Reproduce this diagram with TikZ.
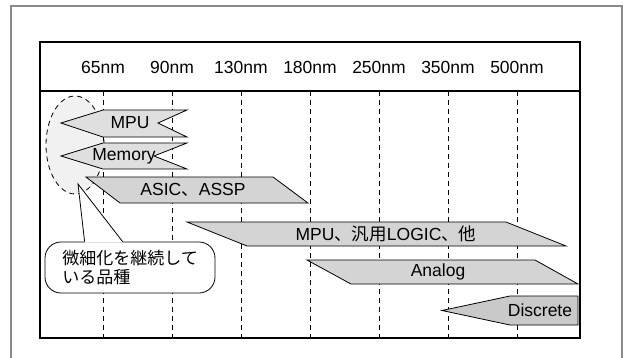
\documentclass[tikz,border=0pt]{standalone}
\usepackage{fontspec}
\setmainfont{Liberation Sans}
\newfontfamily\jp{Noto Sans CJK JP}
\usetikzlibrary{calc,positioning}
\definecolor{band}{HTML}{D4D4D4}
\definecolor{bandlt}{HTML}{DFDFDF}
\definecolor{banddk}{HTML}{C9C9C9}
\definecolor{frame}{HTML}{8A8A8A}
\definecolor{haze}{HTML}{F1F1F1}
\tikzset{
  band/.style={draw=black, fill=band, line width=0.8pt, line join=miter},
  grid/.style={dash pattern=on 5pt off 4pt, line width=0.8pt},
  lbl/.style={font=\fontsize{17.5}{20}\selectfont, inner sep=0pt},
  note/.style={draw, fill=white, rounded corners=16pt, line width=0.8pt, align=left,
               font=\jp\fontsize{17}{19}\selectfont, minimum width=170pt, minimum height=51pt,
               inner xsep=17pt}
}

\begin{document}
\begin{tikzpicture}[x=1pt, y=-1pt]
  \useasboundingbox (0,0) rectangle (623,357);
  \clip (0,0) rectangle (623,357);
  \draw[frame, line width=1.6pt] (11,6) rectangle (622,370);
  \draw[line width=1.2pt] (40,42) rectangle (580,338);
  \draw[line width=1.2pt] (40,91) -- (580,91);
  \draw[haze, fill=haze] (75,145) ellipse [x radius=29, y radius=49];
  \draw[grid] (75,145) ellipse [x radius=29, y radius=49];
  \foreach \x/\n in {103/65, 172/90, 241/130, 310/180, 379/250, 448/350, 517/500} {
    \node[lbl] (h\n) at (\x,67) {\n nm};
    \draw[grid] (\x,91) -- (\x,338);
  }
  % bands
  \draw[band, fill=bandlt] (61,123) -- (103,110) -- (187,110) -- (158,123) -- (187,137) -- (103,137) -- cycle;
  \node[lbl] (mpu) at (130,123) {MPU};
  \draw[band, fill=bandlt] (61,156) -- (103,143) -- (187,143) -- (154,156) -- (187,169) -- (103,169) -- cycle;
  \node[lbl] (mem) at (124,156) {Memory};
  \draw[band] (86,177) -- (273,177) -- (308,203) -- (120,203) -- cycle;
  \node[lbl] (asic) at (193,190) {ASIC{\jp 、}ASSP};
  \draw[band] (187,222) -- (506,222) -- (566,246) -- (247,246) -- cycle;
  \node[lbl] (logic) at (386,234) {MPU{\jp 、汎用}LOGIC{\jp 、他}};
  \draw[band] (307,260) -- (535,260) -- (578,284) -- (351,284) -- cycle;
  \node[lbl] (ana) at (438,272) {Analog};
  \draw[band, fill=banddk] (442,310.5) -- (510,296) -- (578,296) -- (578,325) -- (510,325) -- cycle;
  \node[lbl] (disc) at (540,310.5) {Discrete};
  % callout
  \node[note] (note) at (130,267.5) {微細化を継続して\\いる品種};
  \coordinate (tip) at (78,184);
  \fill[white] (tip) -- ($(note.north west)+(40,1)$) -- ($(note.north west)+(78,1)$) -- cycle;
  \draw[line width=0.8pt] ($(note.north west)+(40,0)$) -- (tip) -- ($(note.north west)+(78,0)$);
\end{tikzpicture}
\end{document}
